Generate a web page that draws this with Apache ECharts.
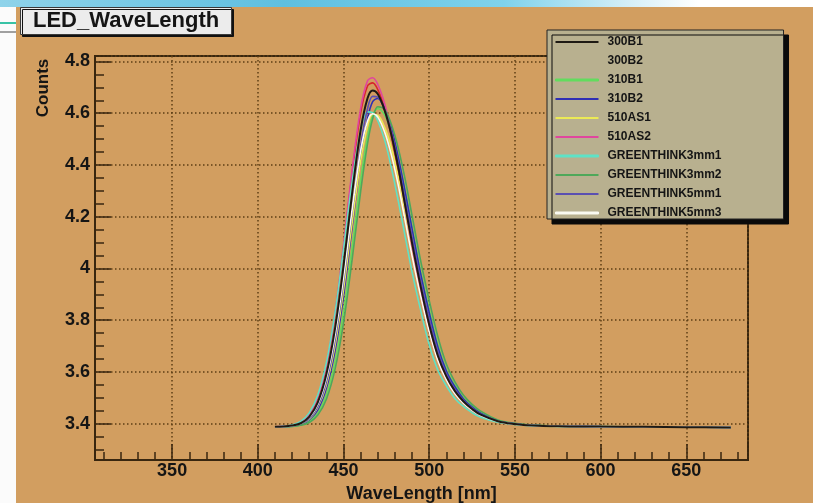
<!DOCTYPE html>
<html><head><meta charset="utf-8">
<script src="https://cdn.jsdelivr.net/npm/echarts@6/dist/echarts.min.js"></script>
<style>
html,body{margin:0;padding:0;background:#fbfbfb;}
#wrap{position:relative;width:813px;height:503px;overflow:hidden;}
#topband{position:absolute;left:0;top:0;width:813px;height:7px;background:linear-gradient(to right,#8fd3ea 0%,#5fbfe0 35%,#7fd2ec 62%,#d8f0f8 78%,#ffffff 86%);}
#l1{position:absolute;left:0;top:22px;width:16px;height:2px;background:#39c3a6;}
#l2{position:absolute;left:0;top:31px;width:16px;height:2px;background:#a0a0a0;}
#bg{position:absolute;left:16px;top:7px;width:797px;height:496px;background:#d29e60;}
#chart{position:absolute;left:0;top:0;width:813px;height:503px;}
</style></head>
<body>
<div id="wrap"><div id="topband"></div><div id="l1"></div><div id="l2"></div><div id="bg"></div><div id="chart"></div></div>
<script>
// Data
const wavelengths = [410,415,420,425,430,435,440,445,450,455,460,464,467,470,474,478,482,486,490,495,500,505,510,515,520,525,530,540,550,560,575,600,625,650,676];
const seriesNames = ['300B1','300B2','310B1','310B2','510AS1','510AS2','GREENTHINK3mm1','GREENTHINK3mm2','GREENTHINK5mm1','GREENTHINK5mm3'];
const s300B1 = [3.388,3.389,3.393,3.402,3.427,3.483,3.591,3.766,4.009,4.289,4.535,4.658,4.688,4.674,4.611,4.515,4.389,4.243,4.098,3.931,3.783,3.664,3.583,3.526,3.486,3.457,3.435,3.410,3.399,3.393,3.390,3.389,3.388,3.387,3.386];
const s300B2 = [3.388,3.390,3.394,3.407,3.437,3.502,3.625,3.819,4.080,4.364,4.601,4.705,4.717,4.691,4.618,4.509,4.375,4.226,4.077,3.912,3.763,3.649,3.574,3.518,3.481,3.453,3.432,3.409,3.399,3.393,3.391,3.389,3.388,3.387,3.386];
const s310B1 = [3.388,3.388,3.390,3.395,3.409,3.442,3.512,3.638,3.831,4.080,4.341,4.510,4.590,4.618,4.593,4.526,4.425,4.301,4.163,3.991,3.843,3.708,3.609,3.548,3.499,3.468,3.443,3.413,3.400,3.394,3.391,3.389,3.388,3.387,3.386];
const s310B2 = [3.388,3.389,3.391,3.397,3.415,3.454,3.537,3.680,3.893,4.159,4.421,4.579,4.645,4.657,4.620,4.541,4.428,4.295,4.153,3.980,3.830,3.698,3.604,3.543,3.496,3.465,3.441,3.412,3.400,3.394,3.391,3.389,3.388,3.387,3.386];
const s510AS1 = [3.388,3.389,3.391,3.399,3.418,3.463,3.551,3.701,3.918,4.175,4.415,4.550,4.595,4.592,4.545,4.465,4.350,4.218,4.083,3.923,3.782,3.664,3.582,3.526,3.485,3.457,3.435,3.410,3.399,3.393,3.390,3.389,3.388,3.387,3.386];
const s510AS2 = [3.388,3.390,3.394,3.407,3.438,3.504,3.628,3.825,4.090,4.379,4.619,4.725,4.737,4.711,4.637,4.526,4.390,4.239,4.087,3.920,3.769,3.653,3.577,3.520,3.483,3.454,3.433,3.410,3.399,3.393,3.391,3.389,3.388,3.387,3.386];
const sGT3mm1 = [3.388,3.390,3.395,3.409,3.442,3.511,3.636,3.827,4.075,4.334,4.532,4.605,4.602,4.571,4.496,4.387,4.259,4.122,3.986,3.839,3.705,3.608,3.547,3.498,3.467,3.443,3.425,3.406,3.397,3.392,3.390,3.389,3.388,3.387,3.386];
const sGT3mm2 = [3.388,3.388,3.390,3.394,3.405,3.434,3.495,3.609,3.790,4.033,4.298,4.482,4.578,4.625,4.614,4.555,4.463,4.343,4.204,4.030,3.877,3.738,3.631,3.562,3.510,3.475,3.449,3.415,3.402,3.395,3.391,3.389,3.388,3.387,3.386];
const sGT5mm1 = [3.388,3.389,3.392,3.400,3.420,3.467,3.561,3.720,3.949,4.220,4.475,4.617,4.665,4.662,4.612,4.527,4.406,4.266,4.123,3.954,3.805,3.680,3.593,3.534,3.490,3.461,3.438,3.411,3.400,3.394,3.391,3.389,3.388,3.387,3.386];
const sGT5mm3 = [3.388,3.389,3.392,3.401,3.424,3.476,3.577,3.740,3.966,4.227,4.455,4.570,4.598,4.585,4.527,4.437,4.320,4.184,4.049,3.894,3.756,3.645,3.570,3.516,3.479,3.452,3.432,3.409,3.398,3.393,3.390,3.389,3.388,3.387,3.386];
const seriesValues = [s300B1,s300B2,s310B1,s310B2,s510AS1,s510AS2,sGT3mm1,sGT3mm2,sGT5mm1,sGT5mm3];
const seriesColors = ['#1e1a14','#d8262a','#62dc5e','#2f2fb4','#ecea55','#e0469e','#5fe2c6','#4ea85a','#5a4fb2','#fafaf2'];
const legendThick = [false,false,true,false,false,false,true,false,false,true];

const FONT = '"Liberation Sans", Arial, Helvetica, sans-serif';
const AXIS = '#38260f';
const GRIDC = '#5e3f15';

const chart = echarts.init(document.getElementById('chart'), null, {renderer:'canvas'});
const series = seriesNames.map((n,i)=>({
  name:n, type:'line', symbol:'none', showSymbol:false, smooth:0.35,
  z: i===0 ? 4 : 2,
  lineStyle:{color:seriesColors[i], width:i===0?2:1.6},
  itemStyle:{color:seriesColors[i]},
  data: wavelengths.map((w,j)=>[w, seriesValues[i][j]])
}));
const legendData = seriesNames.map((n,i)=>{
  const d = {name:n, icon:'rect'};
  if (legendThick[i]) d.itemStyle = {color:seriesColors[i], borderColor:seriesColors[i], borderWidth:1};
  else d.itemStyle = {color:seriesColors[i], borderWidth:0};
  if (n==='300B2') d.itemStyle = {opacity:0, borderWidth:0};
  return d;
});
chart.setOption({
  backgroundColor:'transparent',
  animation:false,
  title:{
    text:'LED_WaveLength', left:20, top:7,
    padding:[3,13,3,13],
    backgroundColor:'#ececec', borderColor:'#3a3a3a', borderWidth:1,
    shadowColor:'#111', shadowOffsetX:2, shadowOffsetY:2, shadowBlur:0,
    textStyle:{fontFamily:FONT, fontWeight:'bold', fontSize:22, color:'#151515'}
  },
  legend:{
    orient:'vertical', left:547, top:30,
    padding:[6,62,0,8],
    itemWidth:43, itemHeight:2, itemGap:7,
    backgroundColor:'#b8b08f', borderColor:'#222', borderWidth:1,
    shadowColor:'#0a0a0a', shadowOffsetX:5, shadowOffsetY:5, shadowBlur:0,
    textStyle:{fontFamily:FONT, fontWeight:'bold', fontSize:12, color:'#151515', lineHeight:12, padding:[0,0,0,4]},
    data:legendData
  },
  grid:{left:95, right:65, top:56, bottom:43, outerBoundsMode:'none', containLabel:false, show:true, borderColor:AXIS, borderWidth:2, backgroundColor:'transparent'},
  xAxis:{
    type:'value', min:305, max:686, splitNumber:8,
    name:'WaveLength [nm]', nameLocation:'middle', nameGap:18,
    nameTextStyle:{fontFamily:FONT, fontWeight:'bold', fontSize:18, color:'#151515', verticalAlign:'top'},
    axisLine:{show:true, onZero:false, lineStyle:{color:AXIS, width:2}},
    axisTick:{show:true, inside:true, length:16, lineStyle:{color:AXIS, width:1.5}},
    minorTick:{show:true, splitNumber:5, length:8, lineStyle:{color:AXIS, width:1.5}},
    axisLabel:{showMinLabel:false, showMaxLabel:false, margin:2, fontFamily:FONT, fontWeight:'bold', fontSize:18, color:'#151515'},
    splitLine:{show:true, lineStyle:{color:GRIDC, width:1.5, type:[1.5,2.5]}}
  },
  yAxis:{
    type:'value', min:3.26, max:4.821, splitNumber:7,
    axisLine:{show:true, onZero:false, lineStyle:{color:AXIS, width:2}},
    axisTick:{show:true, inside:true, length:16, lineStyle:{color:AXIS, width:1.5}},
    minorTick:{show:true, splitNumber:4, length:9, lineStyle:{color:AXIS, width:1.5}},
    axisLabel:{showMinLabel:false, showMaxLabel:false, margin:5, fontFamily:FONT, fontWeight:'bold', fontSize:18, color:'#151515'},
    splitLine:{show:true, lineStyle:{color:GRIDC, width:1.5, type:[1.5,2.5]}}
  },
  graphic:[{
    type:'text', x:43.5, y:88, rotation:Math.PI/2,
    style:{text:'Counts', font:'bold 17px '+FONT, fill:'#151515', align:'center', verticalAlign:'middle', textAlign:'center', textVerticalAlign:'middle'}
  }],
  series:series
});
</script>
</body></html>
